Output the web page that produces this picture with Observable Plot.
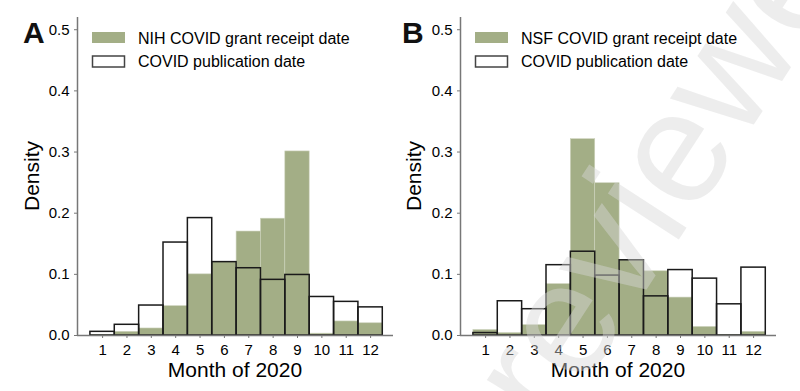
<!DOCTYPE html>
<html>
<head>
<meta charset="utf-8">
<script src="https://cdn.jsdelivr.net/npm/d3@7"></script>
<script src="https://cdn.jsdelivr.net/npm/@observablehq/plot@0.6"></script>
<style>
  html, body { margin: 0; padding: 0; background: #fff; }
  #wrap { position: relative; width: 800px; height: 391px; overflow: hidden; font-family: "Liberation Sans", Arial, sans-serif; }
  #wrap > .panel { position: absolute; top: 0; }
  #overlay { position: absolute; left: 0; top: 0; pointer-events: none; }
</style>
</head>
<body>
<div id="wrap"></div>
<script>
// ---- data ----
const months = [1, 2, 3, 4, 5, 6, 7, 8, 9, 10, 11, 12];
const nihGrant = [0.001, 0.006, 0.0115, 0.048, 0.100, 0.120, 0.170, 0.191, 0.301, 0.003, 0.023, 0.020];
const nihPubs  = [0.006, 0.0175, 0.049, 0.152, 0.192, 0.120, 0.110, 0.091, 0.099, 0.063, 0.055, 0.046];
const nsfGrant = [0.009, 0.004, 0.017, 0.084, 0.321, 0.249, 0.123, 0.105, 0.062, 0.014, 0.001, 0.006];
const nsfPubs  = [0.004, 0.056, 0.043, 0.115, 0.137, 0.098, 0.123, 0.064, 0.107, 0.093, 0.051, 0.111];
const yTicks = [0, 0.1, 0.2, 0.3, 0.4, 0.5];
const panels = [
  {letter: "A", grant: nihGrant, pubs: nihPubs, grantLabel: "NIH COVID grant receipt date"},
  {letter: "B", grant: nsfGrant, pubs: nsfPubs, grantLabel: "NSF COVID grant receipt date"}
];
const pubLabel = "COVID publication date";
const xLabel = "Month of 2020";
const yLabel = "Density";
const watermark = "reviewed";

const GREEN = "#a3ae86";
const AXIS = "#777";
const FONT = "Liberation Sans, Arial, sans-serif";
const xDomain = [-0.03, 12.94];

const layouts = [
  {left: 0, marginLeft: 77, marginRight: 7},
  {left: 400, marginLeft: 60, marginRight: 24}
];

const wrap = document.getElementById("wrap");

function makePanel(p, lay) {
  const data = months.map((m, i) => ({m, g: p.grant[i], p: p.pubs[i]}));
  return Plot.plot({
    width: 400, height: 391,
    marginLeft: lay.marginLeft, marginRight: lay.marginRight,
    marginTop: 17, marginBottom: 56,
    x: {domain: xDomain},
    y: {domain: [0, 0.52]},
    style: {fontFamily: FONT, fontSize: "15px", color: "#000", background: "transparent", overflow: "visible"},
    marks: [
      Plot.rect(data, {x1: d => d.m - 0.5, x2: d => d.m + 0.5, y1: 0, y2: "g",
        fill: GREEN, stroke: "#cdd3bd", strokeWidth: 0.6}),
      Plot.rect(data, {x1: d => d.m - 0.5, x2: d => d.m + 0.5, y1: 0, y2: "p",
        fill: "none", stroke: "#1a1a1a", strokeWidth: 1.5}),
      Plot.ruleY([0], {stroke: AXIS, strokeWidth: 1.5}),
      Plot.ruleX([xDomain[0]], {stroke: AXIS, strokeWidth: 1.5}),
      Plot.axisY({ticks: yTicks, tickFormat: d3.format(".1f"), tickSize: 3, tickPadding: 5,
        stroke: AXIS, fill: "#000", label: null, fontSize: 15}),
      Plot.axisX({ticks: months, tickFormat: d => String(d), tickSize: 3, tickPadding: 6,
        stroke: AXIS, fill: "#000", label: null, fontSize: 15})
    ]
  });
}

panels.forEach((p, i) => {
  const lay = layouts[i];
  const el = makePanel(p, lay);
  el.classList.add("panel");
  el.style.left = lay.left + "px";
  wrap.appendChild(el);
});

// ---- overlay: panel letters, legends, axis titles, watermark ----
const svg = d3.select(wrap).append("svg")
  .attr("id", "overlay").attr("width", 800).attr("height", 391)
  .style("font-family", FONT);

panels.forEach((p, i) => {
  const lay = layouts[i];
  const x0 = lay.left + lay.marginLeft;
  const x1 = lay.left + 400 - lay.marginRight;
  const cx = (x0 + x1) / 2;
  // panel letter
  svg.append("text").attr("x", i === 0 ? 23 : 402).attr("y", 43)
    .attr("font-size", 30).attr("font-weight", "bold").attr("fill", "#111").text(p.letter);
  // legend
  const lx = x0 + 15;
  svg.append("rect").attr("x", lx).attr("y", 32).attr("width", 33).attr("height", 11).attr("fill", GREEN);
  svg.append("text").attr("x", lx + 46).attr("y", 43.5).attr("font-size", 16).attr("fill", "#000").text(p.grantLabel);
  svg.append("rect").attr("x", lx + 0.5).attr("y", 56).attr("width", 32).attr("height", 11)
    .attr("fill", "#fff").attr("stroke", "#444").attr("stroke-width", 1.5);
  svg.append("text").attr("x", lx + 46).attr("y", 67).attr("font-size", 16).attr("fill", "#000").text(pubLabel);
  // axis titles
  svg.append("text").attr("x", cx).attr("y", 377).attr("text-anchor", "middle")
    .attr("font-size", 21).attr("fill", "#000").text(xLabel);
  svg.append("text").attr("transform", `translate(${lay.left + (i === 0 ? 39 : 21)},176) rotate(-90)`)
    .attr("text-anchor", "middle").attr("font-size", 21).attr("fill", "#000").text(yLabel);
});

// faint diagonal watermark
svg.append("text").attr("transform", "translate(552,435) rotate(-57)")
  .attr("font-size", 160).attr("fill", "#d8d8d8").attr("fill-opacity", 0.45).text(watermark);
</script>
</body>
</html>
